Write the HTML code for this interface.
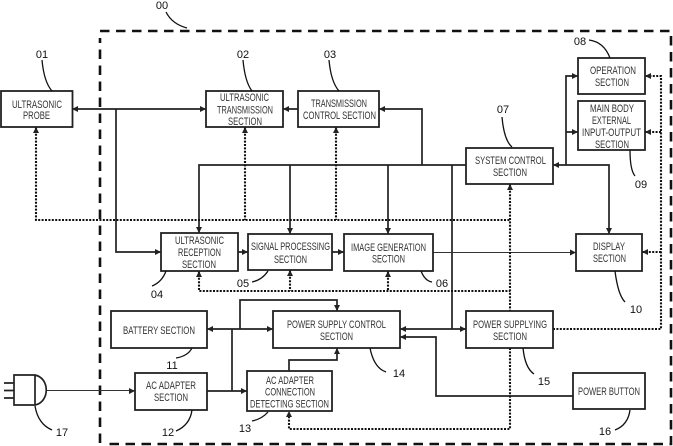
<!DOCTYPE html>
<html><head><meta charset="utf-8"><style>
html,body{margin:0;padding:0;background:#fff}
svg{display:block;filter:blur(0.3px)}
text{font-family:"Liberation Sans",sans-serif;font-size:11px;fill:#333}
.n{font-size:11px;fill:#111;text-anchor:middle}
.b{fill:#fff;stroke:#222;stroke-width:1.8}
.l{fill:none;stroke:#222;stroke-width:1.7}
.t{fill:none;stroke:#333;stroke-width:1.1}
.d{fill:none;stroke:#111;stroke-width:2.1;stroke-dasharray:2 1.4}
.c{fill:none;stroke:#111;stroke-width:1.3}
.a{fill:#222;stroke:none}
</style></head><body>
<svg width="673" height="446" viewBox="0 0 673 446" xmlns="http://www.w3.org/2000/svg">
<rect width="673" height="446" fill="#fff"/>
<path d="M100 31H671V444H108M100 443V38" fill="none" stroke="#111" stroke-width="2.6" stroke-dasharray="9.500 6.500"/>

<g>
<path class="l" d="M72 109H206M116 109V252H161M298 109H283"/>
<path class="l" d="M199 233V165H466M290 165V234M388 165V234M422 165V109H379M452 165V329"/>
<path class="l" d="M553 165H609V234M566 165V76H578M566 132H578"/>
<path class="l" d="M238 252H248M332 252H344"/>
<path class="t" d="M433 252.500H576"/>
<path class="l" d="M207 329H273M232 329V391H247M207 391H247M240 329V300H337V311M289 371V360H337V348"/>
<path class="l" d="M400 329H466M400 337H436V396H573"/>
<path class="t" d="M46 390.500H135"/>
<path class="d" d="M36 127V220H510M245 127V220M336 127V220M510 184V311M510 348V429H289V411"/>
<path class="d" d="M199 271V291H510M290 270V291M388 271V291"/>
<path class="d" d="M553 329H661V76H645M661 132H645M661 252H642"/>
</g>

<g class="a">
<path d="M72 109l6-3v6zM206 109l-6-3v6zM283 109l6-3v6zM161 252l-6-3v6zM379 109l6-3v6z"/>
<path d="M199 233l-3-6h6zM290 234l-3-6h6zM388 234l-3-6h6zM609 234l-3-6h6zM553 165l6-3v6zM578 76l-6-3v6zM578 132l-6-3v6z"/>
<path d="M248 252l-6-3v6zM344 252l-6-3v6zM576 252.500l-6-3v6z"/>
<path d="M207 329l6-3v6zM273 329l-6-3v6zM247 391l-6-3v6zM337 311l-3-6h6zM337 348l-3 6h6z"/>
<path d="M400 329l6-3v6zM466 329l-6-3v6zM400 337l6-3v6zM135 391l-6-3v6z"/>
<path d="M36 127l-3 6h6zM245 127l-3 6h6zM336 127l-3 6h6zM510 184l-3 6h6zM289 411l-3 6h6z"/>
<path d="M199 271l-3 6h6zM290 270l-3 6h6zM388 271l-3 6h6z"/>
<path d="M645 76l6-3v6zM645 132l6-3v6zM642 252l6-3v6z"/>
</g>

<rect class="b" x="1" y="91" width="71.500" height="36"/>
<rect class="b" x="206" y="91" width="77" height="36"/>
<rect class="b" x="298" y="91" width="81" height="36"/>
<rect class="b" x="466" y="148" width="87" height="36"/>
<rect class="b" x="578" y="58" width="67" height="36"/>
<rect class="b" x="578" y="101" width="67" height="49"/>
<rect class="b" x="161" y="233" width="77" height="38"/>
<rect class="b" x="248" y="234" width="84" height="36"/>
<rect class="b" x="344" y="234" width="89" height="37"/>
<rect class="b" x="576" y="234" width="66" height="37"/>
<rect class="b" x="111" y="311" width="96" height="37"/>
<rect class="b" x="273" y="311" width="127" height="37"/>
<rect class="b" x="466" y="311" width="87" height="37"/>
<rect class="b" x="135" y="373" width="72" height="37"/>
<rect class="b" x="247" y="371" width="85" height="40"/>
<rect class="b" x="573" y="373" width="72" height="36"/>

<!-- plug -->
<path class="l" d="M14 375H35V405H14ZM35 375C50 378 50 402 35 405M4 383H14M4 390.500H14M4 398H14"/>

<!-- leaders -->
<g class="c">
<path d="M166 12Q172 24 187 28"/><path d="M42 60Q44 82 52 91"/><path d="M243 60Q245 82 252 91"/><path d="M329 60Q331 82 339 91"/>
<path d="M166 271Q162 282 152 286"/><path d="M268 271Q262 280 252 282"/><path d="M421 271Q425 281 432 282"/>
<path d="M502 117Q504 140 512 147"/><path d="M589 40Q604 42 610 58"/><path d="M630 150Q630 170 635 176"/><path d="M615 271Q618 295 625 302"/>
<path d="M192 348Q188 356 176 358"/><path d="M192 410Q190 425 176 431"/><path d="M268 412Q262 419 252 421"/>
<path d="M370 348Q374 368 386 372"/><path d="M523 348Q525 368 534 374"/><path d="M630 410Q628 425 615 430"/><path d="M35 406Q38 424 52 430"/>
</g>

<!-- labels -->
<g>
<text x="12" y="108" textLength="50" lengthAdjust="spacingAndGlyphs">ULTRASONIC</text>
<text x="23" y="119" textLength="27" lengthAdjust="spacingAndGlyphs">PROBE</text>
<text x="220" y="101" textLength="49" lengthAdjust="spacingAndGlyphs">ULTRASONIC</text>
<text x="217" y="113.500" textLength="56" lengthAdjust="spacingAndGlyphs">TRANSMISSION</text>
<text x="228" y="125" textLength="34" lengthAdjust="spacingAndGlyphs">SECTION</text>
<text x="311" y="107" textLength="56" lengthAdjust="spacingAndGlyphs">TRANSMISSION</text>
<text x="303" y="119" textLength="73" lengthAdjust="spacingAndGlyphs">CONTROL SECTION</text>
<text x="475" y="164" textLength="71" lengthAdjust="spacingAndGlyphs">SYSTEM CONTROL</text>
<text x="493" y="176" textLength="34" lengthAdjust="spacingAndGlyphs">SECTION</text>
<text x="590" y="74" textLength="46" lengthAdjust="spacingAndGlyphs">OPERATION</text>
<text x="595" y="86" textLength="34" lengthAdjust="spacingAndGlyphs">SECTION</text>
<text x="590" y="112" textLength="44" lengthAdjust="spacingAndGlyphs">MAIN BODY</text>
<text x="592" y="124" textLength="39" lengthAdjust="spacingAndGlyphs">EXTERNAL</text>
<text x="582" y="136" textLength="59" lengthAdjust="spacingAndGlyphs">INPUT-OUTPUT</text>
<text x="595" y="148" textLength="34" lengthAdjust="spacingAndGlyphs">SECTION</text>
<text x="175" y="244" textLength="49" lengthAdjust="spacingAndGlyphs">ULTRASONIC</text>
<text x="178" y="256" textLength="43" lengthAdjust="spacingAndGlyphs">RECEPTION</text>
<text x="182" y="268" textLength="34" lengthAdjust="spacingAndGlyphs">SECTION</text>
<text x="251" y="250" textLength="79" lengthAdjust="spacingAndGlyphs">SIGNAL PROCESSING</text>
<text x="274" y="263" textLength="33" lengthAdjust="spacingAndGlyphs">SECTION</text>
<text x="351" y="251" textLength="75" lengthAdjust="spacingAndGlyphs">IMAGE GENERATION</text>
<text x="372" y="262.500" textLength="33" lengthAdjust="spacingAndGlyphs">SECTION</text>
<text x="593" y="250" textLength="32" lengthAdjust="spacingAndGlyphs">DISPLAY</text>
<text x="593" y="262" textLength="33" lengthAdjust="spacingAndGlyphs">SECTION</text>
<text x="123" y="334" textLength="72" lengthAdjust="spacingAndGlyphs">BATTERY SECTION</text>
<text x="287" y="328" textLength="99" lengthAdjust="spacingAndGlyphs">POWER SUPPLY CONTROL</text>
<text x="320" y="340" textLength="33" lengthAdjust="spacingAndGlyphs">SECTION</text>
<text x="473" y="328" textLength="74" lengthAdjust="spacingAndGlyphs">POWER SUPPLYING</text>
<text x="493" y="340" textLength="34" lengthAdjust="spacingAndGlyphs">SECTION</text>
<text x="146" y="389" textLength="50" lengthAdjust="spacingAndGlyphs">AC ADAPTER</text>
<text x="154" y="401" textLength="34" lengthAdjust="spacingAndGlyphs">SECTION</text>
<text x="266" y="384" textLength="48" lengthAdjust="spacingAndGlyphs">AC ADAPTER</text>
<text x="265" y="395.500" textLength="50" lengthAdjust="spacingAndGlyphs">CONNECTION</text>
<text x="250" y="407.500" textLength="79" lengthAdjust="spacingAndGlyphs">DETECTING SECTION</text>
<text x="578" y="395" textLength="62" lengthAdjust="spacingAndGlyphs">POWER BUTTON</text>
</g>

<g>
<text class="n" x="162" y="9">00</text>
<text class="n" x="42" y="58">01</text>
<text class="n" x="243" y="58">02</text>
<text class="n" x="330" y="58">03</text>
<text class="n" x="157" y="298">04</text>
<text class="n" x="243" y="287">05</text>
<text class="n" x="442" y="287">06</text>
<text class="n" x="503" y="113">07</text>
<text class="n" x="580" y="45">08</text>
<text class="n" x="641" y="188">09</text>
<text class="n" x="636" y="313">10</text>
<text class="n" x="172" y="369">11</text>
<text class="n" x="168" y="436">12</text>
<text class="n" x="245" y="432">13</text>
<text class="n" x="399" y="377">14</text>
<text class="n" x="544" y="385">15</text>
<text class="n" x="605" y="435">16</text>
<text class="n" x="62" y="436">17</text>
</g>
</svg>
</body></html>
